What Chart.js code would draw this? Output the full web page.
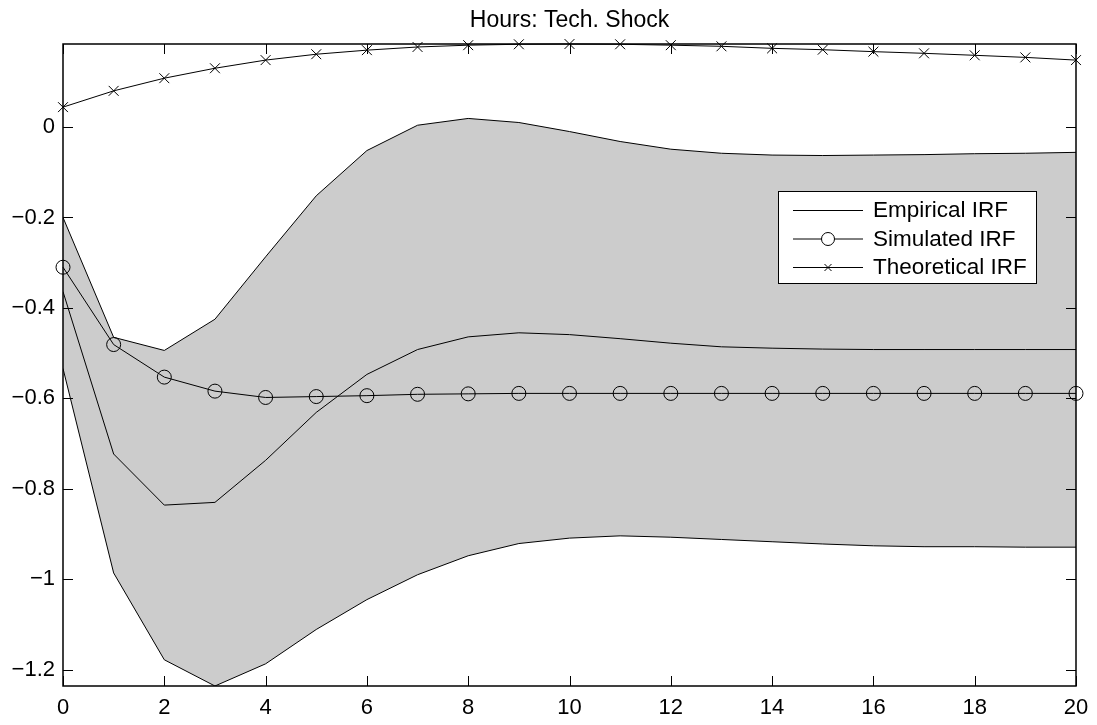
<html>
  <head>
    <script src="https://cdn.jsdelivr.net/npm/chart.js@4"></script>
    <style>
      body { margin: 0; background: #fff; }
      #wrap { width: 1097px; height: 725px; }
    </style>
  </head>
  <body>
    <div id="wrap"><canvas id="irfChart"></canvas></div>

    <script>
      // horizon (quarters after the shock)
      var steps = [0, 1, 2, 3, 4, 5, 6, 7, 8, 9, 10, 11, 12, 13, 14, 15, 16, 17, 18, 19, 20]

      var empirical = [-0.364, -0.723, -0.836, -0.830, -0.737, -0.631, -0.547, -0.492, -0.464, -0.455, -0.459,
                       -0.468, -0.478, -0.486, -0.489, -0.491, -0.492, -0.492, -0.492, -0.492, -0.492]
      var upperBand = [-0.200, -0.465, -0.494, -0.425, -0.287, -0.152, -0.052, 0.004, 0.019, 0.010, -0.010,
                       -0.032, -0.049, -0.058, -0.062, -0.063, -0.062, -0.061, -0.059, -0.058, -0.056]
      var lowerBand = [-0.534, -0.986, -1.178, -1.236, -1.187, -1.111, -1.045, -0.990, -0.948, -0.921, -0.909,
                       -0.904, -0.907, -0.912, -0.917, -0.922, -0.926, -0.928, -0.928, -0.929, -0.929]
      var simulated = [-0.310, -0.481, -0.553, -0.584, -0.598, -0.596, -0.594, -0.591, -0.590, -0.589, -0.589,
                       -0.589, -0.589, -0.589, -0.589, -0.589, -0.589, -0.589, -0.589, -0.589, -0.589]
      var theoretical = [0.044, 0.080, 0.108, 0.130, 0.148, 0.161, 0.170, 0.177, 0.181, 0.183, 0.1836,
                         0.183, 0.181, 0.1785, 0.174, 0.171, 0.1667, 0.163, 0.1586, 0.154, 0.148]

      var legendNames = ['Empirical IRF', 'Simulated IRF', 'Theoretical IRF']
      var title = 'Hours: Tech. Shock'

      var FAMILY = '"Liberation Sans", Arial, sans-serif'

      function points(ys) {
        return ys.map(function (y, i) { return { x: steps[i], y: y } })
      }

      function fmt(v) {
        if (Math.abs(v) < 1e-9) return '0'
        var s = String(Math.round(Math.abs(v) * 10) / 10)
        return (v < 0 ? '\u2212' : '') + s
      }

      // box, inside tick marks on all four sides, title and legend
      var frame = {
        id: 'frame',
        afterDraw: function (chart) {
          var ctx = chart.ctx
          var a = chart.chartArea
          var xs = chart.scales.x, ys = chart.scales.y
          ctx.save()
          ctx.strokeStyle = '#000'
          ctx.lineWidth = 1
          ctx.beginPath()
          xs.ticks.forEach(function (t) {
            var px = Math.round(xs.getPixelForValue(t.value)) + 0.5
            ctx.moveTo(px, a.bottom); ctx.lineTo(px, a.bottom - 10)
            ctx.moveTo(px, a.top); ctx.lineTo(px, a.top + 10)
          })
          ys.ticks.forEach(function (t) {
            var py = Math.round(ys.getPixelForValue(t.value)) + 0.5
            ctx.moveTo(a.left, py); ctx.lineTo(a.left + 10, py)
            ctx.moveTo(a.right, py); ctx.lineTo(a.right - 10, py)
          })
          ctx.stroke()
          ctx.lineWidth = 1.5
          ctx.strokeRect(a.left, a.top, a.right - a.left, a.bottom - a.top)

          ctx.fillStyle = '#000'
          ctx.font = '23px ' + FAMILY
          ctx.textAlign = 'center'
          ctx.textBaseline = 'alphabetic'
          ctx.fillText(title, (a.left + a.right) / 2, 26.5)

          // legend
          var bx = 778, by = 191, bw = 258, bh = 92
          ctx.fillStyle = '#fff'
          ctx.fillRect(bx, by, bw, bh)
          ctx.lineWidth = 1
          ctx.strokeRect(bx + 0.5, by + 0.5, bw, bh)
          var rows = [210, 238.5, 267]
          ctx.font = '22.5px ' + FAMILY
          ctx.textAlign = 'left'
          ctx.textBaseline = 'middle'
          rows.forEach(function (ry, i) {
            ctx.strokeStyle = '#000'
            ctx.beginPath()
            ctx.moveTo(793, ry + 0.5); ctx.lineTo(863, ry + 0.5)
            ctx.stroke()
            if (i === 1) {
              ctx.fillStyle = '#fff'
              ctx.beginPath(); ctx.arc(828, ry + 0.5, 6.5, 0, Math.PI * 2); ctx.fill(); ctx.stroke()
            }
            if (i === 2) {
              ctx.beginPath()
              ctx.moveTo(824.5, ry - 3); ctx.lineTo(831.5, ry + 4)
              ctx.moveTo(831.5, ry - 3); ctx.lineTo(824.5, ry + 4)
              ctx.stroke()
            }
            ctx.fillStyle = '#000'
            ctx.fillText(legendNames[i], 873, ry + 1)
          })
          ctx.restore()
        }
      }

      var ctx = document.getElementById('irfChart').getContext('2d')
      var chart = new Chart(ctx, {
        type: 'line',
        data: {
          datasets: [
            {
              label: 'upper',
              data: points(upperBand),
              borderColor: '#000',
              borderWidth: 1,
              backgroundColor: '#cccccc',
              fill: '+1',
              pointRadius: 0
            },
            {
              label: 'lower',
              data: points(lowerBand),
              borderColor: '#000',
              borderWidth: 1,
              fill: false,
              pointRadius: 0
            },
            {
              label: legendNames[0],
              data: points(empirical),
              borderColor: '#000',
              borderWidth: 1,
              fill: false,
              pointRadius: 0
            },
            {
              label: legendNames[1],
              data: points(simulated),
              borderColor: '#000',
              borderWidth: 1,
              fill: false,
              pointStyle: 'circle',
              pointRadius: 7,
              pointBorderWidth: 1,
              pointBorderColor: '#000',
              pointBackgroundColor: 'rgba(0,0,0,0)',
              clip: false
            },
            {
              label: legendNames[2],
              data: points(theoretical),
              borderColor: '#000',
              borderWidth: 1,
              fill: false,
              pointStyle: 'crossRot',
              pointRadius: 7,
              pointBorderWidth: 1,
              pointBorderColor: '#000',
              clip: false
            }
          ]
        },
        options: {
          responsive: true,
          maintainAspectRatio: false,
          animation: false,
          events: [],
          layout: { padding: { top: 44, right: 21, left: 0, bottom: 0 } },
          elements: { line: { tension: 0 } },
          plugins: {
            legend: { display: false },
            tooltip: { enabled: false },
            filler: { drawTime: 'beforeDatasetsDraw' }
          },
          scales: {
            x: {
              type: 'linear',
              min: 0,
              max: 20,
              grid: { display: false },
              border: { display: false },
              ticks: {
                stepSize: 2,
                padding: 1,
                color: '#000',
                font: { family: FAMILY, size: 22 },
                maxRotation: 0
              },
              afterFit: function (s) { s.height = 39 }
            },
            y: {
              type: 'linear',
              min: -1.236,
              max: 0.1836,
              grid: { display: false },
              border: { display: false },
              ticks: {
                stepSize: 0.2,
                includeBounds: false,
                padding: 0,
                color: '#000',
                font: { family: FAMILY, size: 22 },
                callback: function (v) { return fmt(v) }
              },
              afterFit: function (s) { s.width = 63 }
            }
          }
        },
        plugins: [frame]
      })
    </script>
  </body>
</html>
